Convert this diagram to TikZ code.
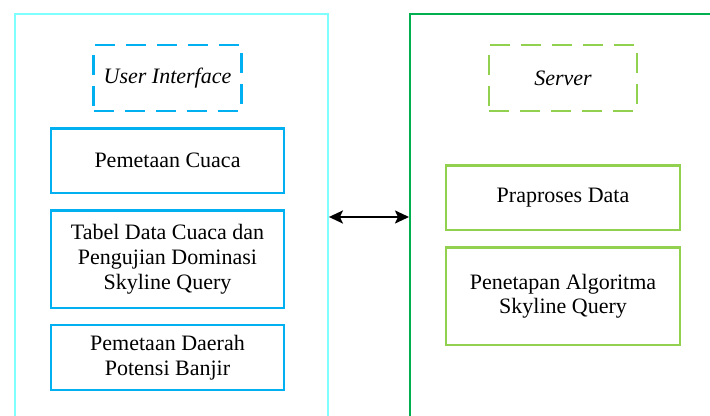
\documentclass[tikz,border=0pt]{standalone}
\usepackage{fontspec}
\setmainfont{Liberation Serif}
\usetikzlibrary{arrows.meta, positioning}
\definecolor{uicyan}{RGB}{128, 255, 255}
\definecolor{uiblue}{RGB}{0, 176, 240}
\definecolor{srvgreen}{RGB}{0, 176, 80}
\definecolor{srvlime}{RGB}{146, 208, 80}

\begin{document}
\begin{tikzpicture}[
    x=1pt, y=1pt,
    textfont/.style={font=\fontsize{11}{12.3}\selectfont},
    frame/.style={rectangle, line width=1.2pt, anchor=north west,
                  minimum height=240pt},
    tag/.style={rectangle, line width=1.3pt, dash pattern=on 10pt off 5.5pt,
                minimum width=74pt, minimum height=33pt,
                font=\fontsize{11}{12.3}\selectfont\itshape},
    box/.style={rectangle, line width=1.2pt,
                minimum width=116.75pt, minimum height=32.25pt,
                align=center, textfont},
    tallbox/.style={box, minimum height=48.75pt},
    arrow/.style={{Stealth[length=7pt, width=6.5pt, inset=1.5pt]}-{Stealth[length=7pt, width=6.5pt, inset=1.5pt]}, line width=1pt}
]
\path[use as bounding box] (0,0) rectangle (355,208);
\clip (0,0) rectangle (355,208);

% Frames
\node[frame, draw=uicyan, minimum width=156.25pt] (uiframe) at (7,201.5) {};
\node[frame, draw=srvgreen, minimum width=170pt] (srvframe) at (204.5,201.5) {};

% User interface side
\node[tag, draw=uiblue] (ui) at (83.75,169) {User Interface};
\node[box, draw=uiblue, below=7.5pt of ui] (cuaca) {Pemetaan Cuaca};
\node[tallbox, draw=uiblue, below=7.5pt of cuaca] (tabel) {Tabel Data Cuaca dan\\Pengujian Dominasi\\Skyline Query};
\node[box, draw=uiblue, below=7.5pt of tabel] (banjir) {Pemetaan Daerah\\Potensi Banjir};

% Server side
\node[tag, draw=srvlime] (server) at (281.5,169) {Server};
\node[box, draw=srvlime, below=26pt of server] (praproses) {Praproses Data};
\node[tallbox, draw=srvlime, below=7.5pt of praproses] (skyline) {Penetapan Algoritma\\Skyline Query};

% Link
\coordinate (link) at (0,99.5);
\draw[arrow] (uiframe.east |- link) -- (srvframe.west |- link);

\end{tikzpicture}
\end{document}
